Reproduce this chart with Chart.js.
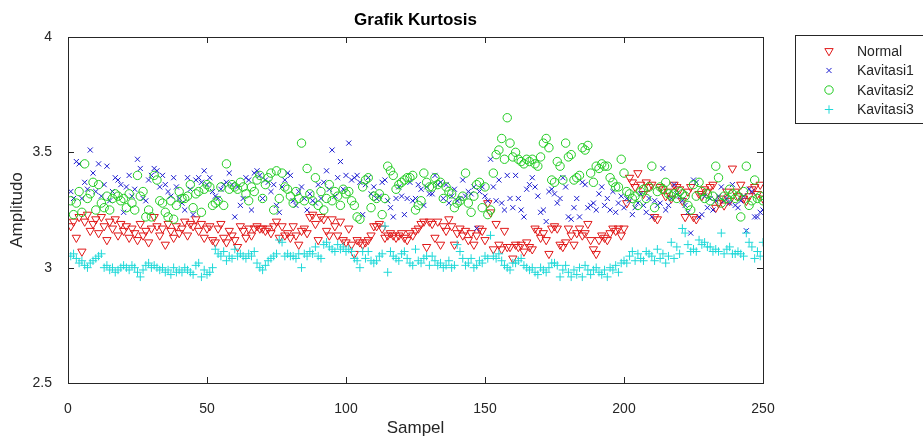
<!DOCTYPE html>
<html>
<head>
<meta charset="utf-8">
<script src="https://cdn.jsdelivr.net/npm/chart.js@4/dist/chart.umd.min.js"></script>
<style>
  html, body { margin: 0; padding: 0; background: #fff; }
  canvas { display: block; }
</style>
</head>
<body>
<canvas id="kurtosisChart" width="923" height="441"></canvas>
<script>
// Kurtosis values per sample
const normal = [
  3.18, 3.20, 3.13, 3.22, 3.07, 3.20, 3.23, 3.16, 3.19, 3.21,
  3.15, 3.22, 3.18, 3.12, 3.20, 3.17, 3.21, 3.14, 3.19, 3.16,
  3.18, 3.13, 3.17, 3.15, 3.12, 3.19, 3.14, 3.16, 3.11, 3.17,
  3.22, 3.18, 3.14, 3.17, 3.10, 3.19, 3.16, 3.13, 3.18, 3.15,
  3.17, 3.20, 3.14, 3.19, 3.18, 3.21, 3.16, 3.19, 3.13, 3.17,
  3.18, 3.12, 3.11, 3.17, 3.19, 3.13, 3.11, 3.16, 3.14, 3.12,
  3.09, 3.18, 3.16, 3.13, 3.17, 3.14, 3.17, 3.18, 3.17, 3.17,
  3.16, 3.17, 3.15, 3.18, 3.20, 3.13, 3.18, 3.14, 3.15, 3.13,
  3.18, 3.14, 3.10, 3.16, 3.17, 3.15, 3.22, 3.23, 3.19, 3.12,
  3.22, 3.21, 3.16, 3.14, 3.21, 3.18, 3.14, 3.20, 3.12, 3.11,
  3.17, 3.10, 3.06, 3.12, 3.11, 3.10, 3.11, 3.12, 3.14, 3.18,
  3.18, 3.19, 3.17, 3.13, 3.14, 3.15, 3.14, 3.13, 3.14, 3.15,
  3.13, 3.12, 3.15, 3.14, 3.16, 3.17, 3.19, 3.20, 3.09, 3.20,
  3.19, 3.13, 3.20, 3.10, 3.18, 3.16, 3.21, 3.18, 3.10, 3.15,
  3.17, 3.14, 3.16, 3.12, 3.15, 3.10, 3.14, 3.17, 3.16, 3.12,
  3.28, 3.24, 3.08, 3.19, 3.10, 3.08, 3.16, 3.09, 3.09, 3.04,
  3.10, 3.09, 3.10, 3.07, 3.11, 3.09, 3.08, 3.17, 3.16, 3.13,
  3.15, 3.12, 3.06, 3.17, 3.18, 3.17, 3.10, 3.09, 3.11, 3.17,
  3.14, 3.10, 3.15, 3.17, 3.14, 3.15, 3.19, 3.12, 3.08, 3.06,
  3.12, 3.14, 3.13, 3.12, 3.15, 3.17, 3.16, 3.17, 3.14, 3.17,
  3.28, 3.39, 3.37, 3.35, 3.41, 3.36, 3.32, 3.37, 3.35, 3.36,
  3.22, 3.21, 3.35, 3.34, 3.31, 3.33, 3.30, 3.36, 3.35, 3.34,
  3.29, 3.22, 3.33, 3.35, 3.22, 3.21, 3.32, 3.31, 3.34, 3.33,
  3.35, 3.36, 3.26, 3.28, 3.30, 3.27, 3.33, 3.29, 3.43, 3.33,
  3.31, 3.36, 3.30, 3.29, 3.31, 3.34, 3.35, 3.32, 3.36, 3.30
];

const kavitasi1 = [
  3.33, 3.30, 3.46, 3.45, 3.30, 3.37, 3.34, 3.51, 3.41, 3.33,
  3.45, 3.31, 3.36, 3.44, 3.29, 3.33, 3.39, 3.38, 3.36, 3.24,
  3.35, 3.40, 3.31, 3.34, 3.47, 3.43, 3.30, 3.29, 3.38, 3.40,
  3.43, 3.42, 3.35, 3.40, 3.36, 3.33, 3.31, 3.39, 3.35, 3.30,
  3.28, 3.25, 3.39, 3.34, 3.23, 3.38, 3.39, 3.37, 3.42, 3.36,
  3.39, 3.33, 3.31, 3.30, 3.34, 3.36, 3.37, 3.41, 3.36, 3.22,
  3.35, 3.27, 3.30, 3.39, 3.38, 3.25, 3.41, 3.42, 3.40, 3.30,
  3.38, 3.37, 3.33, 3.36, 3.27, 3.24, 3.35, 3.38, 3.41, 3.40,
  3.29, 3.27, 3.33, 3.35, 3.30, 3.25, 3.32, 3.29, 3.28, 3.36,
  3.30, 3.37, 3.42, 3.34, 3.51, 3.31, 3.39, 3.46, 3.34, 3.40,
  3.54, 3.38, 3.39, 3.40, 3.37, 3.23, 3.36, 3.39, 3.32, 3.35,
  3.30, 3.31, 3.37, 3.38, 3.29, 3.26, 3.22, 3.30, 3.35, 3.31,
  3.23, 3.30, 3.37, 3.29, 3.30, 3.36, 3.34, 3.27, 3.35, 3.32,
  3.32, 3.40, 3.36, 3.37, 3.30, 3.36, 3.28, 3.31, 3.34, 3.29,
  3.30, 3.38, 3.31, 3.33, 3.32, 3.35, 3.17, 3.33, 3.35, 3.31,
  3.29, 3.47, 3.35, 3.29, 3.38, 3.28, 3.25, 3.40, 3.30, 3.26,
  3.40, 3.30, 3.25, 3.22, 3.34, 3.36, 3.39, 3.35, 3.31, 3.24,
  3.25, 3.20, 3.33, 3.34, 3.32, 3.28, 3.30, 3.39, 3.35, 3.22,
  3.21, 3.26, 3.30, 3.22, 3.37, 3.36, 3.26, 3.27, 3.28, 3.25,
  3.32, 3.35, 3.27, 3.30, 3.25, 3.33, 3.24, 3.28, 3.31, 3.26,
  3.30, 3.29, 3.23, 3.26, 3.28, 3.32, 3.27, 3.24, 3.30, 3.22,
  3.29, 3.27, 3.28, 3.43, 3.25, 3.27, 3.30, 3.36, 3.32, 3.31,
  3.29, 3.27, 3.24, 3.15, 3.38, 3.37, 3.22, 3.23, 3.31, 3.26,
  3.30, 3.25, 3.29, 3.31, 3.35, 3.29, 3.30, 3.28, 3.36, 3.27,
  3.26, 3.29, 3.31, 3.16, 3.34, 3.33, 3.22, 3.22, 3.24, 3.25
];

const kavitasi2 = [
  3.29, 3.23, 3.28, 3.33, 3.24, 3.45, 3.30, 3.32, 3.37, 3.25,
  3.36, 3.28, 3.26, 3.31, 3.25, 3.30, 3.32, 3.31, 3.29, 3.30,
  3.26, 3.32, 3.28, 3.25, 3.40, 3.31, 3.33, 3.22, 3.25, 3.22,
  3.40, 3.38, 3.29, 3.28, 3.24, 3.22, 3.29, 3.21, 3.27, 3.33,
  3.30, 3.30, 3.31, 3.36, 3.26, 3.32, 3.33, 3.24, 3.34, 3.36,
  3.35, 3.27, 3.28, 3.29, 3.35, 3.27, 3.45, 3.34, 3.36, 3.35,
  3.34, 3.37, 3.35, 3.32, 3.29, 3.35, 3.33, 3.38, 3.40, 3.30,
  3.36, 3.39, 3.41, 3.25, 3.42, 3.30, 3.41, 3.35, 3.34, 3.31,
  3.28, 3.33, 3.30, 3.54, 3.29, 3.43, 3.32, 3.29, 3.39, 3.27,
  3.33, 3.25, 3.30, 3.36, 3.29, 3.33, 3.31, 3.27, 3.34, 3.32,
  3.33, 3.29, 3.27, 3.22, 3.21, 3.35, 3.38, 3.39, 3.26, 3.31,
  3.30, 3.32, 3.23, 3.30, 3.44, 3.42, 3.40, 3.34, 3.36, 3.37,
  3.38, 3.39, 3.39, 3.40, 3.25, 3.27, 3.29, 3.41, 3.37, 3.35,
  3.35, 3.39, 3.36, 3.37, 3.30, 3.35, 3.33, 3.32, 3.26, 3.28,
  3.29, 3.31, 3.41, 3.28, 3.24, 3.31, 3.36, 3.37, 3.26, 3.35,
  3.23, 3.25, 3.41, 3.49, 3.51, 3.56, 3.47, 3.65, 3.54, 3.48,
  3.50, 3.47, 3.46, 3.45, 3.47, 3.46, 3.47, 3.45, 3.44, 3.48,
  3.54, 3.56, 3.52, 3.38, 3.37, 3.46, 3.44, 3.38, 3.54, 3.48,
  3.49, 3.38, 3.39, 3.40, 3.52, 3.51, 3.53, 3.41, 3.37, 3.44,
  3.43, 3.45, 3.44, 3.44, 3.39, 3.37, 3.35, 3.35, 3.47, 3.41,
  3.33, 3.32, 3.30, 3.31, 3.27, 3.33, 3.34, 3.30, 3.35, 3.44,
  3.26, 3.33, 3.35, 3.34, 3.37, 3.32, 3.31, 3.32, 3.30, 3.33,
  3.32, 3.31, 3.27, 3.25, 3.36, 3.31, 3.37, 3.33, 3.30, 3.32,
  3.29, 3.31, 3.44, 3.39, 3.28, 3.31, 3.30, 3.34, 3.32, 3.30,
  3.31, 3.22, 3.33, 3.44, 3.27, 3.29, 3.38, 3.30, 3.31, 3.29
];

const kavitasi3 = [
  3.05, 3.06, 3.04, 3.02, 3.03, 3.01, 3.00, 3.02, 3.03, 3.04,
  3.05, 3.06, 3.00, 3.01, 2.99, 3.00, 2.98, 2.99, 3.00, 3.01,
  3.00, 2.99, 3.01, 3.00, 2.98, 2.96, 2.99, 3.01, 3.02, 3.00,
  3.01, 3.00, 2.99, 3.00, 2.98, 2.99, 2.97, 3.00, 2.98, 2.99,
  2.98, 3.00, 2.99, 2.98, 2.97, 3.01, 3.02, 2.96, 2.99, 2.97,
  2.98, 3.00, 3.08, 3.06, 3.05, 3.07, 3.03, 3.05, 3.04, 3.08,
  3.05, 3.06, 3.05, 3.04, 3.06, 3.05, 3.07, 3.02, 3.00, 2.99,
  3.01, 3.03, 3.04, 3.05, 3.06, 3.12, 3.11, 3.05, 3.06, 3.05,
  3.05, 3.04, 3.06, 3.00, 3.06, 3.05, 3.07, 3.06, 3.09, 3.05,
  3.04, 3.10, 3.11, 3.09, 3.08, 3.07, 3.10, 3.08, 3.09, 3.07,
  3.08, 3.07, 3.04, 3.03, 3.00, 3.07, 3.04, 3.07, 3.03, 3.02,
  3.03, 3.05, 3.06, 3.18, 2.98, 3.07, 3.05, 3.04, 3.03, 3.06,
  3.07, 3.04, 3.02, 3.01, 3.08, 3.03, 3.02, 3.04, 3.05, 3.01,
  3.05, 3.03, 3.01, 3.02, 3.00, 3.01, 3.03, 3.00, 3.01, 3.10,
  3.07, 3.04, 3.01, 3.02, 3.04, 3.00, 3.01, 3.03, 3.02, 3.05,
  3.04, 3.14, 3.05, 3.04, 3.06, 3.03, 3.01, 3.00, 2.99, 3.02,
  3.02, 3.03, 3.04, 3.01, 3.00, 2.99, 3.00, 2.98, 2.97, 3.00,
  2.99, 2.98, 3.00, 3.02, 3.02, 3.01, 2.96, 2.99, 3.01, 2.98,
  2.96, 2.99, 2.97, 3.00, 2.96, 3.01, 2.99, 2.97, 2.99, 3.00,
  2.98, 2.97, 2.99, 2.96, 3.00, 2.99, 3.01, 2.98, 3.02, 3.03,
  3.02, 3.05, 3.07, 3.03, 3.06, 3.04, 3.03, 3.07, 3.06, 3.05,
  3.03, 3.08, 3.04, 3.06, 3.02, 3.05, 3.11, 3.04, 3.09, 3.06,
  3.17, 3.15, 3.10, 3.07, 3.08, 3.07, 3.12, 3.10, 3.11, 3.09,
  3.09, 3.07, 3.08, 3.07, 3.15, 3.06, 3.08, 3.09, 3.06, 3.06,
  3.07, 3.06, 3.05, 3.15, 3.11, 3.09, 3.04, 3.07, 3.05, 3.11
];

const seriesNames = ['Normal', 'Kavitasi1', 'Kavitasi2', 'Kavitasi3'];
const xTicks = [0, 50, 100, 150, 200, 250];
const yTicks = [2.5, 3, 3.5, 4];

const axisColor = '#262626';
const fontFamily = '"Liberation Sans", Arial, Helvetica, sans-serif';

const toPoints = arr => arr.map((v, i) => ({ x: i + 1, y: v }));

const styles = [
  { color: '#e01818', pointStyle: 'triangle', radius: 4.8, rotation: 180 },
  { color: '#1c1cd0', pointStyle: 'crossRot', radius: 3.6, rotation: 0 },
  { color: '#22cc22', pointStyle: 'circle', radius: 4.2, rotation: 0 },
  { color: '#1ed8d8', pointStyle: 'cross', radius: 4.2, rotation: 0 }
];

const seriesData = [normal, kavitasi1, kavitasi2, kavitasi3];

const datasets = seriesData.map((arr, i) => ({
  label: seriesNames[i],
  data: toPoints(arr),
  pointStyle: styles[i].pointStyle,
  pointRadius: styles[i].radius,
  pointRotation: styles[i].rotation,
  borderColor: styles[i].color,
  backgroundColor: 'rgba(0,0,0,0)',
  pointBorderWidth: 1,
  order: 4 - i   // later series drawn on top, like MATLAB
}));

// Box frame with inward ticks on all four sides
const frameTicks = {
  id: 'frameTicks',
  afterDatasetsDraw(chart) {
    const { ctx, chartArea: a, scales } = chart;
    const tl = 6;
    ctx.save();
    ctx.strokeStyle = axisColor;
    ctx.lineWidth = 1;
    ctx.beginPath();
    ctx.rect(Math.round(a.left) + 0.5, Math.round(a.top) + 0.5,
             Math.round(a.right - a.left), Math.round(a.bottom - a.top));
    xTicks.forEach(v => {
      const px = Math.round(scales.x.getPixelForValue(v)) + 0.5;
      ctx.moveTo(px, a.bottom); ctx.lineTo(px, a.bottom - tl);
      ctx.moveTo(px, a.top); ctx.lineTo(px, a.top + tl);
    });
    yTicks.forEach(v => {
      const py = Math.round(scales.y.getPixelForValue(v)) + 0.5;
      ctx.moveTo(a.left, py); ctx.lineTo(a.left + tl, py);
      ctx.moveTo(a.right, py); ctx.lineTo(a.right - tl, py);
    });
    ctx.stroke();
    ctx.restore();
  }
};

// MATLAB-like legend box, top right
const boxLegend = {
  id: 'boxLegend',
  afterDraw(chart) {
    const { ctx } = chart;
    const bx = 795, by = 35, bw = 140, bh = 88;
    ctx.save();
    ctx.fillStyle = '#fff';
    ctx.fillRect(bx, by, bw, bh);
    ctx.strokeStyle = axisColor;
    ctx.lineWidth = 1;
    ctx.strokeRect(bx + 0.5, by + 0.5, bw, bh);
    ctx.font = '14px ' + fontFamily;
    ctx.textBaseline = 'middle';
    ctx.textAlign = 'left';
    chart.data.datasets.forEach((ds, i) => {
      const y = 51 + i * 19.5;
      ctx.strokeStyle = ds.borderColor;
      ctx.fillStyle = 'rgba(0,0,0,0)';
      ctx.lineWidth = 1;
      Chart.helpers.drawPoint(ctx, {
        pointStyle: ds.pointStyle,
        radius: ds.pointRadius,
        rotation: ds.pointRotation,
        borderWidth: 1
      }, 829, y);
      ctx.fillStyle = axisColor;
      ctx.fillText(ds.label, 857, y + 1);
    });
    ctx.restore();
  }
};

new Chart(document.getElementById('kurtosisChart'), {
  type: 'scatter',
  data: { datasets },
  options: {
    responsive: false,
    animation: false,
    events: [],
    layout: { padding: { left: 0, right: 160, top: 0, bottom: 0 } },
    plugins: {
      legend: { display: false },
      tooltip: { enabled: false },
      title: {
        display: true,
        text: 'Grafik Kurtosis',
        fullSize: false,
        color: '#000',
        font: { family: fontFamily, size: 17, weight: 'bold' },
        padding: { top: 10, bottom: 6.6 }
      }
    },
    scales: {
      x: {
        type: 'linear',
        min: 0,
        max: 250,
        afterBuildTicks: s => { s.ticks = xTicks.map(v => ({ value: v })); },
        afterFit: s => { s.height = 58; },
        grid: { display: false },
        border: { display: true, color: axisColor, width: 1 },
        ticks: {
          color: axisColor,
          padding: 10,
          font: { family: fontFamily, size: 14 }
        },
        title: {
          display: true,
          text: 'Sampel',
          color: axisColor,
          padding: { top: 0, bottom: 2 },
          font: { family: fontFamily, size: 17 }
        }
      },
      y: {
        type: 'linear',
        min: 2.5,
        max: 4,
        afterBuildTicks: s => { s.ticks = yTicks.map(v => ({ value: v })); },
        afterFit: s => { s.width = 68; },
        grid: { display: false },
        border: { display: true, color: axisColor, width: 1 },
        ticks: {
          color: axisColor,
          padding: 8,
          font: { family: fontFamily, size: 14 },
          callback: v => String(v)
        },
        title: {
          display: true,
          text: 'Amplitudo',
          color: axisColor,
          padding: { top: 7, bottom: 0 },
          font: { family: fontFamily, size: 17 }
        }
      }
    }
  },
  plugins: [frameTicks, boxLegend]
});
</script>
</body>
</html>
